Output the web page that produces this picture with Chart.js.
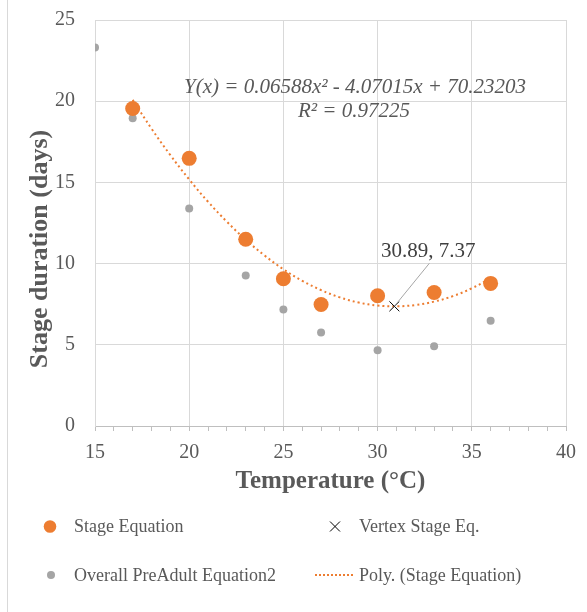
<!DOCTYPE html>
<html>
<head>
<meta charset="utf-8">
<script src="https://cdn.jsdelivr.net/npm/chart.js@4/dist/chart.umd.min.js"></script>
<style>
  html, body { margin: 0; padding: 0; background: #fff; }
  #wrap { width: 587px; height: 612px; }
</style>
</head>
<body>
<div id="wrap"><canvas id="stageChart" width="587" height="612"></canvas></div>
<script>
// data
var stageTemps = [17, 20, 23, 25, 27, 30, 33, 36];
var stageDays = [19.55, 16.48, 11.5, 9.07, 7.48, 8.02, 8.22, 8.78];
var overallTemps = [15, 17, 20, 23, 25, 27, 30, 33, 36];
var overallDays = [23.3, 18.95, 13.4, 9.26, 7.18, 5.75, 4.66, 4.91, 6.48];
var vertexTemp = [30.89];
var vertexDays = [7.37];
// dotted trend curve, read at each degree
var trendTemps = [17, 18, 19, 20, 21, 22, 23, 24, 25, 26, 27, 28, 29, 30, 31, 32, 33, 34, 35, 36];
var trendDays = [20.08, 18.31, 16.68, 15.18, 13.81, 12.58, 11.47, 10.5, 9.65, 8.94, 8.37, 7.92, 7.6, 7.42, 7.37, 7.45, 7.66, 8.0, 8.48, 9.09];
var xTicks = [15, 20, 25, 30, 35, 40];
var yTicks = [0, 5, 10, 15, 20, 25];

var ORANGE = '#ED7D31';
var GRAY = '#A5A5A5';
var TEXT = '#595959';
var SERIF = '"Liberation Serif", "Times New Roman", serif';

function toPoints(xs, ys) {
    return xs.map(function (x, i) { return { x: x, y: ys[i] }; });
}

// equation, vertex label, y title, legend, frame line
var extras = {
    id: 'extras',
    afterDraw: function (chart) {
        var ctx = chart.ctx;
        var xs = chart.scales.x, ys = chart.scales.y;
        ctx.save();

        // left frame line
        ctx.strokeStyle = '#d9d9d9';
        ctx.lineWidth = 1;
        ctx.beginPath();
        ctx.moveTo(7.5, 0);
        ctx.lineTo(7.5, 612);
        ctx.stroke();

        // y axis title
        ctx.save();
        ctx.translate(47, 249);
        ctx.rotate(-Math.PI / 2);
        ctx.fillStyle = TEXT;
        ctx.font = 'bold 26px ' + SERIF;
        ctx.textAlign = 'center';
        ctx.textBaseline = 'alphabetic';
        ctx.fillText('Stage duration (days)', 0, 0);
        ctx.restore();

        // trendline equation
        ctx.fillStyle = TEXT;
        ctx.font = 'italic 21px ' + SERIF;
        ctx.textAlign = 'center';
        ctx.textBaseline = 'alphabetic';
        ctx.fillText('Y(x) = 0.06588x² - 4.07015x + 70.23203', 355, 93);
        ctx.fillText('R² = 0.97225', 354, 117);

        // vertex label with leader line
        var vx = xs.getPixelForValue(vertexTemp[0]);
        var vy = ys.getPixelForValue(vertexDays[0]);
        ctx.strokeStyle = '#a6a6a6';
        ctx.lineWidth = 1;
        ctx.beginPath();
        ctx.moveTo(vx, vy);
        ctx.lineTo(vx + 35, vy - 43);
        ctx.stroke();
        ctx.fillStyle = '#404040';
        ctx.font = '21px ' + SERIF;
        ctx.fillText(vertexTemp[0].toFixed(2) + ', ' + vertexDays[0].toFixed(2), vx + 34, vy - 49);

        // legend, two columns
        var ds = chart.data.datasets;
        ctx.font = '18px ' + SERIF;
        ctx.textAlign = 'left';
        ctx.textBaseline = 'alphabetic';

        ctx.fillStyle = ORANGE;
        ctx.beginPath(); ctx.arc(50, 526.5, 6.3, 0, Math.PI * 2); ctx.fill();
        ctx.fillStyle = TEXT;
        ctx.fillText(ds[0].label, 74, 532);

        ctx.strokeStyle = '#000';
        ctx.lineWidth = 1;
        ctx.beginPath();
        ctx.moveTo(330, 521.5); ctx.lineTo(340, 531.5);
        ctx.moveTo(340, 521.5); ctx.lineTo(330, 531.5);
        ctx.stroke();
        ctx.fillText(ds[2].label, 359, 532);

        ctx.fillStyle = GRAY;
        ctx.beginPath(); ctx.arc(51, 575, 4, 0, Math.PI * 2); ctx.fill();
        ctx.fillStyle = TEXT;
        ctx.fillText(ds[1].label, 74, 581);

        ctx.strokeStyle = ORANGE;
        ctx.lineWidth = 2;
        ctx.setLineDash([2, 2]);
        ctx.beginPath(); ctx.moveTo(315, 575); ctx.lineTo(354, 575); ctx.stroke();
        ctx.setLineDash([]);
        ctx.fillText(ds[3].label, 359, 581);

        ctx.restore();
    }
};

document.addEventListener('DOMContentLoaded', function () {
    var ctx = document.getElementById('stageChart').getContext('2d');
    var stageChart = new Chart(ctx, {
        type: 'scatter',
        data: {
            datasets: [{
                label: 'Stage Equation',
                data: toPoints(stageTemps, stageDays),
                backgroundColor: ORANGE,
                borderColor: ORANGE,
                pointRadius: 7.5,
                borderWidth: 0,
                order: 2
            }, {
                label: 'Overall PreAdult Equation2',
                data: toPoints(overallTemps, overallDays),
                backgroundColor: GRAY,
                borderColor: GRAY,
                pointRadius: 4,
                borderWidth: 0,
                order: 3
            }, {
                label: 'Vertex Stage Eq.',
                data: toPoints(vertexTemp, vertexDays),
                pointStyle: 'crossRot',
                pointRadius: 7,
                borderColor: '#000',
                borderWidth: 1,
                order: 0
            }, {
                label: 'Poly. (Stage Equation)',
                data: toPoints(trendTemps, trendDays),
                showLine: true,
                pointRadius: 0,
                borderColor: ORANGE,
                borderWidth: 2,
                borderDash: [2, 3],
                tension: 0.4,
                order: 1
            }]
        },
        options: {
            responsive: false,
            animation: false,
            layout: { padding: { left: 0, top: 20, right: 21, bottom: 115 } },
            plugins: {
                legend: { display: false },
                tooltip: { enabled: false }
            },
            scales: {
                x: {
                    type: 'linear',
                    min: 15,
                    max: 40,
                    afterFit: function (scale) {
                        scale.height = 71;
                        scale.paddingLeft = 0;
                        scale.paddingRight = 0;
                    },
                    ticks: {
                        stepSize: 1,
                        autoSkip: false,
                        maxRotation: 0,
                        padding: 10,
                        color: TEXT,
                        font: { family: SERIF, size: 20 },
                        callback: function (v) { return xTicks.indexOf(v) >= 0 ? v : ''; }
                    },
                    grid: {
                        color: function (c) { return xTicks.indexOf(c.tick.value) >= 0 ? '#d9d9d9' : 'rgba(0,0,0,0)'; },
                        tickColor: '#bfbfbf',
                        tickLength: 5
                    },
                    border: { color: '#bfbfbf' },
                    title: {
                        display: true,
                        text: 'Temperature (°C)',
                        color: TEXT,
                        font: { family: SERIF, size: 25, weight: 'bold' },
                        padding: 0
                    }
                },
                y: {
                    min: 0,
                    max: 25,
                    afterFit: function (scale) {
                        scale.width = 95;
                        scale.paddingTop = 0;
                        scale.paddingBottom = 0;
                    },
                    ticks: {
                        stepSize: 5,
                        padding: 20,
                        color: TEXT,
                        font: { family: SERIF, size: 20 },
                        callback: function (v) { return yTicks.indexOf(v) >= 0 ? v : ''; }
                    },
                    grid: { color: '#d9d9d9', drawTicks: false },
                    border: { color: '#d9d9d9' }
                }
            }
        },
        plugins: [extras]
    });
});
</script>
</body>
</html>
